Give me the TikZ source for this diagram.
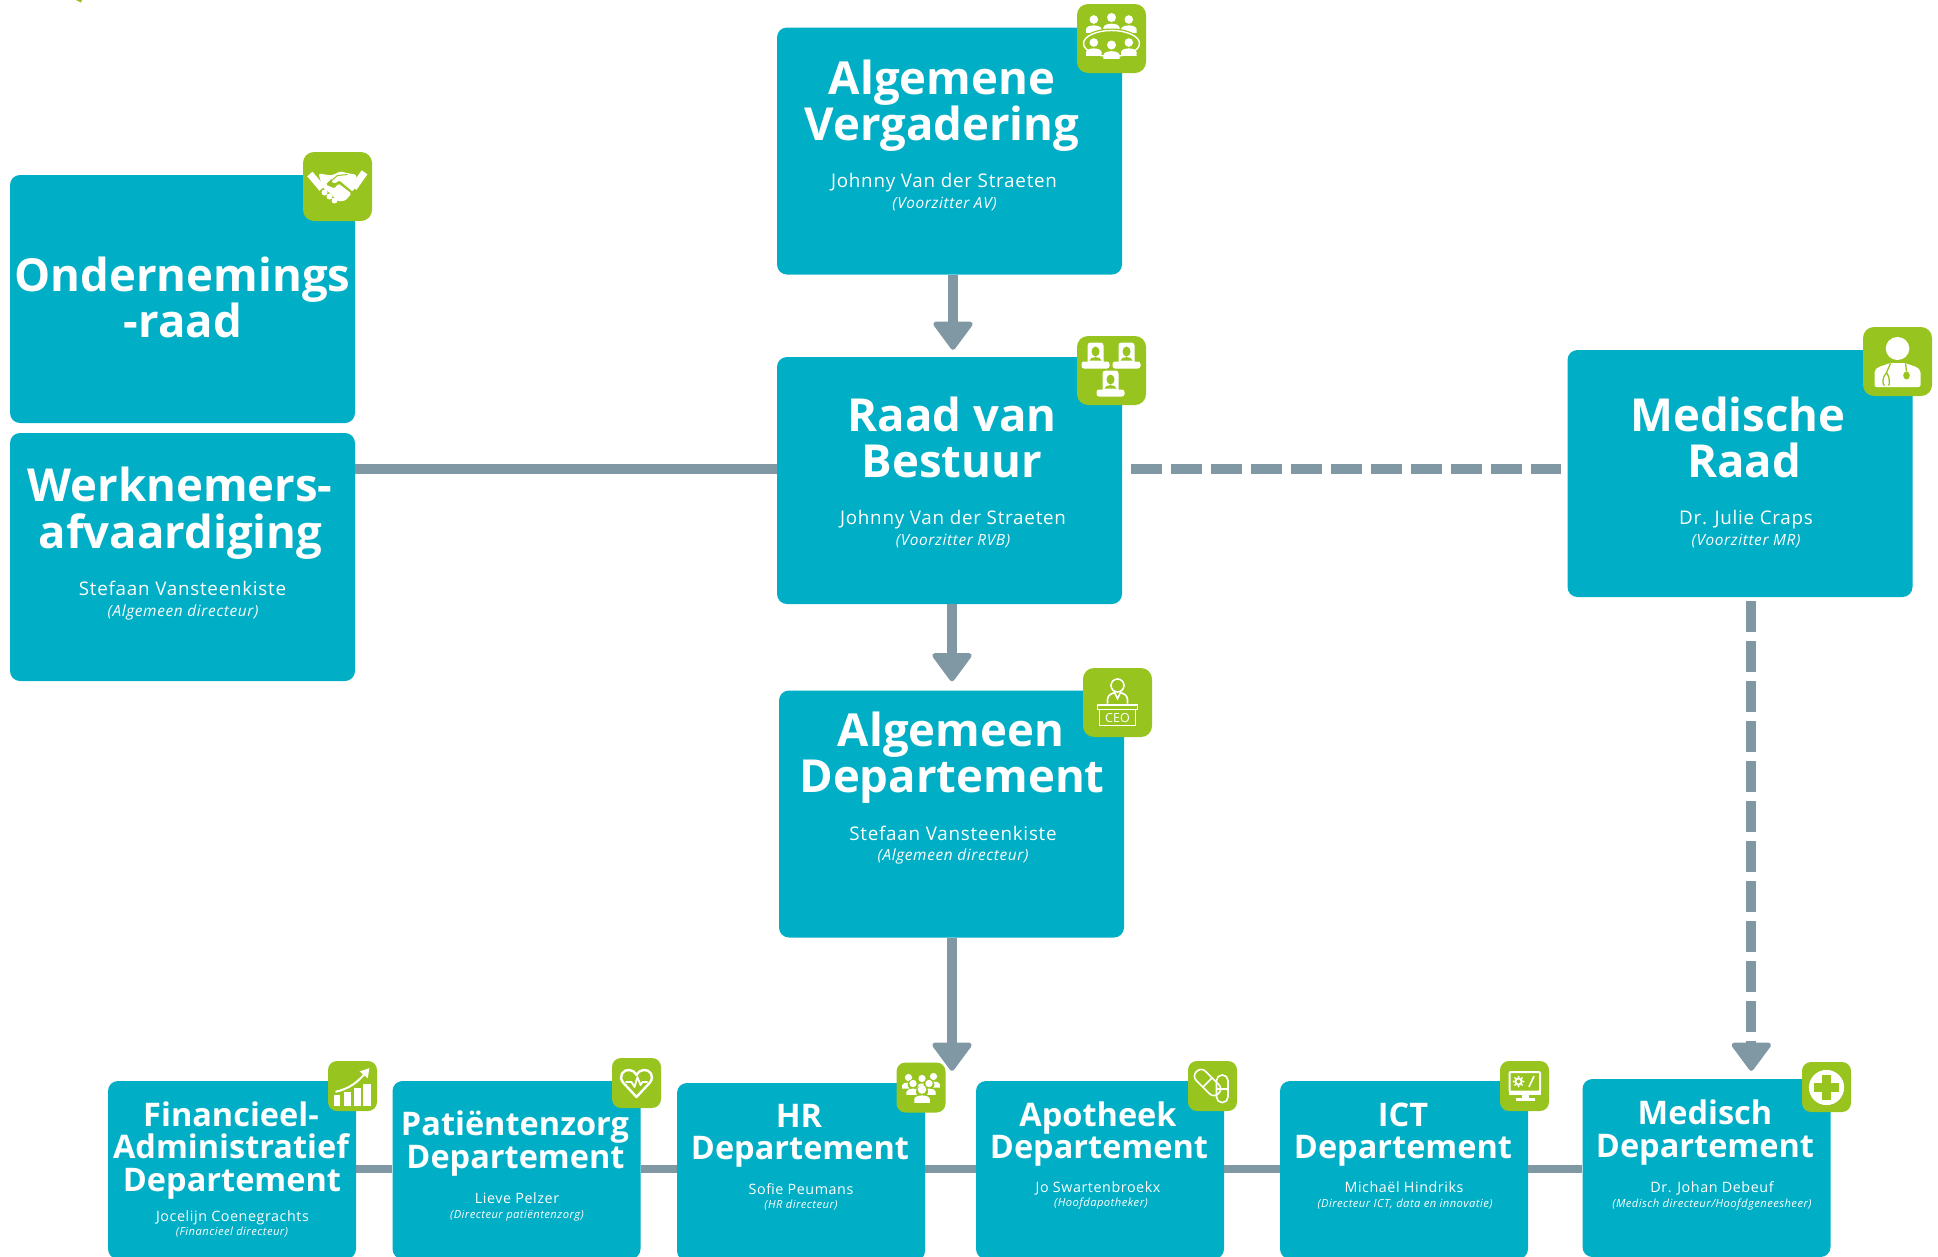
\documentclass[tikz,border=0pt]{standalone}
\usepackage{fontspec}
\usetikzlibrary{arrows.meta}
\newfontfamily\ttlfont{Open Sans}
\newfontfamily\namefont{Open Sans}[LetterSpace=4]
\definecolor{boxc}{RGB}{0,174,197}
\definecolor{badgec}{RGB}{151,196,30}
\definecolor{linec}{RGB}{127,152,163}
\tikzset{
 x=1pt,y=-1pt,
 box/.style={fill=boxc,rounded corners=10pt,inner sep=0pt,draw=none},
 bigbox/.style={box,minimum width=345pt,minimum height=247pt},
 smallbox/.style={box,minimum width=248pt,minimum height=178pt},
 badge/.style={fill=badgec,rounded corners=11pt,inner sep=0pt,minimum width=69pt,minimum height=69pt},
 sbadge/.style={fill=badgec,rounded corners=9pt,inner sep=0pt,minimum width=49pt,minimum height=50pt},
 txt/.style={text=white,anchor=base,inner sep=0pt},
 ttlL/.style={txt,font=\ttlfont\bfseries\fontsize{45.5}{45.5}\selectfont},
 ttlS/.style={txt,font=\ttlfont\bfseries\fontsize{32.5}{32.5}\selectfont},
 nameL/.style={txt,font=\namefont\fontsize{18.8}{18.8}\selectfont},
 itaL/.style={txt,font=\namefont\itshape\fontsize{15.4}{15.4}\selectfont},
 nameS/.style={txt,font=\namefont\fontsize{14.3}{14.3}\selectfont},
 itaS/.style={txt,font=\namefont\itshape\fontsize{11.2}{11.2}\selectfont},
 link/.style={line width=10pt,draw=linec},
 hlink/.style={line width=8.5pt,draw=linec},
 dashlink/.style={link,dash pattern=on 30.5pt off 9.5pt},
 arrowed/.style={-{Triangle[width=43pt,length=30pt,round,line width=5pt]}},
 ic/.style={fill=white,draw=none},
 icl/.style={draw=white,line width=1.6pt,fill=none},
}
\newcommand{\person}[3]{% x y size
 \fill[white] (#1,#2) circle ({#3*1.0});
 \fill[white] ({#1-#3*1.8},{#2+#3*3.1}) -- ({#1-#3*1.8},{#2+#3*2.2}) .. controls ({#1-#3*1.6},{#2+#3*1.1}) and ({#1+#3*1.6},{#2+#3*1.1}) .. ({#1+#3*1.8},{#2+#3*2.2}) -- ({#1+#3*1.8},{#2+#3*3.1}) -- cycle;
}
\newcommand{\seat}[2]{% x y
 \fill[white,rounded corners=3pt] ({#1-8},{#2-13}) rectangle ({#1+8},{#2+10});
 \fill[badgec] (#1,{#2-4}) ellipse (4 and 5);
 \fill[badgec] ({#1-6},{#2+5}) .. controls ({#1-5.5},{#2+0.5}) and ({#1+5.5},{#2+0.5}) .. ({#1+6},{#2+5}) -- cycle;
 \fill[white,rounded corners=2.5pt] ({#1-14},{#2+6}) rectangle ({#1+14},{#2+13});
}
\begin{document}
\begin{tikzpicture}
\useasboundingbox (0,0) rectangle (1938,1256);
\clip (0,0) rectangle (1938,1256);
\fill[white] (0,0) rectangle (1938,1256);
\fill[badgec] (76,0) -- (82,0) -- (81,2.5) -- cycle;

% boxes
\node[bigbox] (av) at (949.5,151) {};
\node[bigbox] (rvb) at (949.5,480.5) {};
\node[bigbox] (ad) at (951.5,814) {};
\node[bigbox,minimum height=248pt] (or) at (182.5,299) {};
\node[bigbox,minimum height=248pt] (wa) at (182.5,557) {};
\node[bigbox] (mr) at (1740,473.5) {};
\node[smallbox] (fa) at (232,1170) {};
\node[smallbox] (pz) at (516.5,1170) {};
\node[smallbox] (hr) at (801,1172) {};
\node[smallbox] (apo) at (1100,1170) {};
\node[smallbox] (ict) at (1404,1170) {};
\node[smallbox] (med) at (1706.5,1168) {};

% connectors
\coordinate (bar) at ([yshift=11.5pt]rvb.west);
\coordinate (bar2) at ([yshift=1pt]fa.east);
\draw[link] (wa.east |- bar) -- (bar);
\draw[dashlink,shorten <=9pt,shorten >=6pt] (rvb.east |- bar) -- (mr.west |- bar);
\draw[hlink] (bar2) -- (pz.west |- bar2);
\draw[hlink] (pz.east |- bar2) -- (hr.west |- bar2);
\draw[hlink] (hr.east |- bar2) -- (apo.west |- bar2);
\draw[hlink] (apo.east |- bar2) -- (ict.west |- bar2);
\draw[hlink] (ict.east |- bar2) -- (med.west |- bar2);
\draw[link,arrowed,shorten >=7pt] ([xshift=3.5pt]av.south) -- ([xshift=3.5pt]rvb.north);
\draw[link,arrowed,shorten >=9pt] ([xshift=2.5pt]rvb.south) -- ([xshift=.5pt]ad.north);
\draw[link,arrowed,shorten >=12pt] ([xshift=.5pt]ad.south) -- ([xshift=151pt]hr.north);
\draw[dashlink,arrowed,shorten <=4pt,shorten >=8pt,dash pattern=on 30.5pt off 9.5pt] ([xshift=11.3pt]mr.south) -- ([xshift=44.8pt]med.north);

% titles
\node[ttlL] (t1a) at (942,94) {Algemene};
\node[ttlL] (t1b) at (942,140) {Vergadering};
\node[nameL] (n1) at (944,187.5) {Johnny Van der Straeten};
\node[itaL] (i1) at (944.5,208.5) {(Voorzitter AV)};
\node[ttlL] (t2a) at (952,431) {Raad van};
\node[ttlL] (t2b) at (952,477) {Bestuur};
\node[nameL] (n2) at (953,524.5) {Johnny Van der Straeten};
\node[itaL] (i2) at (953,545.5) {(Voorzitter RVB)};
\node[ttlL] (t3a) at (951,746) {Algemeen};
\node[ttlL] (t3b) at (952,792) {Departement};
\node[nameL] (n3) at (953,840) {Stefaan Vansteenkiste};
\node[itaL] (i3) at (953,860) {(Algemeen directeur)};
\node[ttlL] (t4a) at (182.5,291) {Ondernemings};
\node[ttlL] (t4b) at (183,337) {-raad};
\node[ttlL] (t5a) at (180,501) {Werknemers-};
\node[ttlL] (t5b) at (180.5,548) {afvaardiging};
\node[nameL] (n5) at (182.5,595) {Stefaan Vansteenkiste};
\node[itaL] (i5) at (183,616) {(Algemeen directeur)};
\node[ttlL] (t6a) at (1738,431) {Medische};
\node[ttlL] (t6b) at (1744,477) {Raad};
\node[nameL] (n6) at (1746,524) {Dr. Julie Craps};
\node[itaL] (i6) at (1746,545) {(Voorzitter MR)};
% bottom row
\node[ttlS] (t7a) at (231,1126) {Financieel-};
\node[ttlS] (t7b) at (231,1158) {Administratief};
\node[ttlS] (t7c) at (232,1191) {Departement};
\node[nameS] (n7) at (232.5,1221) {Jocelijn Coenegrachts};
\node[itaS] (i7) at (232,1235) {(Financieel directeur)};
\node[ttlS] (t8a) at (515,1135) {Patiëntenzorg};
\node[ttlS] (t8b) at (515.5,1168) {Departement};
\node[nameS] (n8) at (517,1203) {Lieve Pelzer};
\node[itaS] (i8) at (517,1218) {(Directeur patiëntenzorg)};
\node[ttlS] (t9a) at (799,1127) {HR};
\node[ttlS] (t9b) at (800,1159) {Departement};
\node[nameS] (n9) at (801,1194) {Sofie Peumans};
\node[itaS] (i9) at (801,1208) {(HR directeur)};
\node[ttlS] (t10a) at (1098,1126) {Apotheek};
\node[ttlS] (t10b) at (1099,1158) {Departement};
\node[nameS] (n10) at (1098,1192) {Jo Swartenbroekx};
\node[itaS] (i10) at (1101,1206) {(Hoofdapotheker)};
\node[ttlS] (t11a) at (1403,1126) {ICT};
\node[ttlS] (t11b) at (1403,1158) {Departement};
\node[nameS] (n11) at (1404,1192) {Michaël Hindriks};
\node[itaS] (i11) at (1405,1207) {(Directeur ICT, data en innovatie)};
\node[ttlS] (t12a) at (1705,1124) {Medisch};
\node[ttlS] (t12b) at (1705,1157) {Departement};
\node[nameS] (n12) at (1712,1192) {Dr. Johan Debeuf};
\node[itaS] (i12) at (1712,1207) {(Medisch directeur/Hoofdgeneesheer)};

% badges
\node[badge] (b1) at (1111.5,38.5) {};
\node[badge] (b2) at (1111.5,370.5) {};
\node[badge] (b3) at (1117.5,702.5) {};
\node[badge] (b4) at (337.5,186.5) {};
\node[badge] (b5) at (1897.5,361.5) {};
\node[sbadge] (b6) at (352.5,1086) {};
\node[sbadge] (b7) at (636.5,1083) {};
\node[sbadge] (b8) at (921,1087.5) {};
\node[sbadge] (b9) at (1212.5,1086) {};
\node[sbadge] (b10) at (1524.5,1086) {};
\node[sbadge] (b11) at (1826.5,1087) {};

% meeting icon
\begin{scope}[shift={(b1)}]
 \person{-17.7}{-19}{4.3}\person{0}{-21}{4.5}\person{17.3}{-19}{4.3}
 \fill[badgec] (0,5) ellipse (30 and 15);
 \draw[white,line width=1.4pt] (0,5) ellipse (28 and 13);
 \person{-17.7}{4}{4.3}\person{0}{6.5}{4.5}\person{17.3}{4}{4.3}
\end{scope}
% board icon
\begin{scope}[shift={(b2)}]
 \seat{-16}{-15}\seat{15}{-15}\seat{-1}{13}
\end{scope}
% ceo icon
\begin{scope}[shift={(b3)}]
 \draw[icl] (0,-17) circle (6.5);
 \draw[icl] (-10,1) -- (-10,-3) .. controls (-10,-8) and (-5,-9) .. (-3,-10) -- (0,-4) -- (3,-10) .. controls (5,-9) and (10,-8) .. (10,-3) -- (10,1);
 \draw[icl] (-20,2.5) rectangle (20,7);
 \draw[icl] (-18,7) rectangle (18,23);
 \node[txt,font=\ttlfont\fontsize{12.5}{12.5}\selectfont] (ceo) at (0,19.5) {CEO};
\end{scope}
% handshake icon
\begin{scope}[shift={(b4)}]
 \fill[white,rotate around={40:(-24,-9)}] (-28,-14) rectangle (-21,5);
 \fill[white,rotate around={-35:(24,-9)}] (20,-15) rectangle (27,4);
 \fill[white,rounded corners=1.5pt] (-19,-13) -- (-6,-11) -- (-1,-13) -- (-12,-2) -- (-3,2) -- (1,-3) -- (14,7) -- (8,14) -- (1,15) -- (-7,7) -- (-15,1) -- cycle;
 \fill[white,rounded corners=1pt] (-6,-11) -- (3,-15) -- (12,-13) -- (18,-12) -- (21,-4) -- (15,5) -- (2,-6) -- (-3,-3) -- (-6,-5) -- cycle;
 \draw[badgec,line width=1pt] (-7,-5) -- (0,-11) -- (10,-12);
 \foreach \u/\v in {-13/6,-8/10,-3/14}{\fill[white] (\u,\v) circle (3);}
\end{scope}
% doctor icon
\begin{scope}[shift={(b5)}]
 \fill[white] (0,-13) ellipse (11.8 and 11.5);
 \fill[white,rounded corners=2pt] (-23,25.5) -- (-23,13) .. controls (-23,5) and (-13,4) .. (-8,1.5) -- (8,1.5) .. controls (13,4) and (23,5) .. (23,13) -- (23,25.5) -- cycle;
 \draw[badgec,line width=1.3pt] (-7,2) -- (-11,11) (-11,11) .. controls (-16,16) and (-15,24) .. (-13,24) (-11,11) .. controls (-7,16) and (-8,24) .. (-9,24);
 \draw[badgec,line width=1.3pt] (8,2) -- (9,10);
 \fill[badgec] (9,14) ellipse (3.3 and 4);
\end{scope}
% chart icon
\begin{scope}[shift={(b6)}]
 \fill[white] (-18.7,9) rectangle (-12.6,20);
 \fill[white] (-9,5.7) rectangle (-2,20);
 \fill[white] (1,2.3) rectangle (8,20);
 \fill[white] (10.3,-2) rectangle (18,20);
 \draw[white,line width=2pt,-{Triangle[width=10pt,length=9pt]}] (-17,5.7) .. controls (-3,3) and (6,-5) .. (17,-18);
\end{scope}
% heart icon
\begin{scope}[shift={(b7)}]
 \draw[white,line width=2.4pt,line join=round] (0,14) -- (-13,0) .. controls (-19,-7) and (-13,-14) .. (-7,-13) .. controls (-4,-13) and (-2,-11) .. (0,-8) .. controls (2,-11) and (4,-13) .. (7,-13) .. controls (13,-14) and (19,-7) .. (13,0) -- cycle;
 \draw[white,line width=1.8pt,line join=round] (-11,-1) -- (-5,-1) -- (-2,4) -- (1,-6) -- (4,2) -- (6,-1) -- (11,-1);
\end{scope}
% people icon
\begin{scope}[shift={(b8)}]
 \person{-12.5}{-10}{3.6}\person{12.5}{-11}{3.6}\person{1}{-9}{3.6}
 \fill[badgec] (-8,-3) circle (5.5);\fill[badgec] (8,-3) circle (5.5);
 \person{-8}{-4}{3.7}\person{8}{-4}{3.7}
 \fill[badgec] (1,4) circle (6);
 \person{1}{2}{4.3}
\end{scope}
% pills icon
\begin{scope}[shift={(b9)}]
 \draw[icl,rotate around={45:(-5,-3.5)},rounded corners=6pt] (-11.5,-19) rectangle (1.5,12);
 \draw[icl,rotate around={45:(-5,-3.5)}] (-11.5,-3.5) -- (1.5,-3.5);
 \draw[icl,rounded corners=5.5pt] (4,-11) rectangle (15.5,16.5);
 \draw[icl] (4,3) -- (15.5,3);
\end{scope}
% monitor icon
\begin{scope}[shift={(b10)}]
 \draw[white,line width=2pt,rounded corners=1pt] (-15,-14) rectangle (15.5,5.5);
 \fill[white] (-15.5,5) rectangle (16,9);
 \fill[white] (-3,9) rectangle (4,12);
 \fill[white] (-8.5,12) rectangle (10,15);
 \draw[white,line width=2pt] (-6,-4.5) circle (3.2);
 \foreach \a in {0,45,...,315}{\fill[white] ({-6+5*cos(\a)},{-4.5+5*sin(\a)}) circle (1);}
 \draw[white,line width=1.6pt] (4.5,1) -- (9.5,-10);
\end{scope}
% cross icon
\begin{scope}[shift={(b11)}]
 \fill[white] (0,0.5) circle (17.6);
 \fill[badgec] (-4.5,-12) rectangle (4.5,13);
 \fill[badgec] (-12.5,-4) rectangle (12.5,5);
\end{scope}
\end{tikzpicture}
\end{document}
